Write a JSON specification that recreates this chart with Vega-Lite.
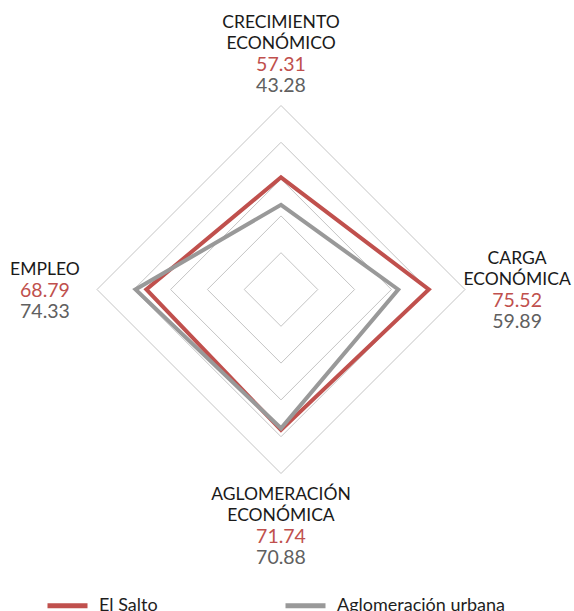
{
  "$schema": "https://vega.github.io/schema/vega-lite/v6.json",
  "width": 368,
  "height": 368,
  "autosize": "none",
  "padding": {"left": 97, "top": 105.5, "right": 109, "bottom": 137.5},
  "background": "white",
  "config": {"view": {"stroke": null}, "font": "Lato"},
  "datasets": {
    "ejes": [
      {"orden": 0, "nombre": ["CRECIMIENTO", "ECONÓMICO"]},
      {"orden": 1, "nombre": ["CARGA", "ECONÓMICA"]},
      {"orden": 2, "nombre": ["AGLOMERACIÓN", "ECONÓMICA"]},
      {"orden": 3, "nombre": ["EMPLEO"]}
    ],
    "series": [
      {"serie": "El Salto", "orden": 0, "valor": 57.31},
      {"serie": "El Salto", "orden": 1, "valor": 75.52},
      {"serie": "El Salto", "orden": 2, "valor": 71.74},
      {"serie": "El Salto", "orden": 3, "valor": 68.79},
      {"serie": "Aglomeración urbana", "orden": 0, "valor": 43.28},
      {"serie": "Aglomeración urbana", "orden": 1, "valor": 59.89},
      {"serie": "Aglomeración urbana", "orden": 2, "valor": 70.88},
      {"serie": "Aglomeración urbana", "orden": 3, "valor": 74.33}
    ],
    "rejilla": [
      {"nivel": 18.8, "orden": 0}, {"nivel": 18.8, "orden": 1}, {"nivel": 18.8, "orden": 2}, {"nivel": 18.8, "orden": 3},
      {"nivel": 37.6, "orden": 0}, {"nivel": 37.6, "orden": 1}, {"nivel": 37.6, "orden": 2}, {"nivel": 37.6, "orden": 3},
      {"nivel": 56.4, "orden": 0}, {"nivel": 56.4, "orden": 1}, {"nivel": 56.4, "orden": 2}, {"nivel": 56.4, "orden": 3},
      {"nivel": 75.2, "orden": 0}, {"nivel": 75.2, "orden": 1}, {"nivel": 75.2, "orden": 2}, {"nivel": 75.2, "orden": 3},
      {"nivel": 94, "orden": 0}, {"nivel": 94, "orden": 1}, {"nivel": 94, "orden": 2}, {"nivel": 94, "orden": 3}
    ]
  },
  "layer": [
    {
      "data": {"name": "rejilla"},
      "transform": [
        {"calculate": "datum.nivel * [0, 1, 0, -1][datum.orden]", "as": "px"},
        {"calculate": "datum.nivel * [1, 0, -1, 0][datum.orden]", "as": "py"}
      ],
      "mark": {"type": "line", "interpolate": "linear-closed", "color": "#c4c4c4", "strokeWidth": 1},
      "encoding": {
        "x": {"field": "px", "type": "quantitative", "scale": {"domain": [-94, 94]}, "axis": null},
        "y": {"field": "py", "type": "quantitative", "scale": {"domain": [-94, 94]}, "axis": null},
        "detail": {"field": "nivel", "type": "nominal"},
        "order": {"field": "orden", "type": "quantitative"}
      }
    },
    {
      "data": {"name": "series"},
      "transform": [
        {"calculate": "datum.valor * [0, 1, 0, -1][datum.orden]", "as": "px"},
        {"calculate": "datum.valor * [1, 0, -1, 0][datum.orden]", "as": "py"}
      ],
      "mark": {"type": "line", "interpolate": "linear-closed", "strokeWidth": 4, "strokeJoin": "miter"},
      "encoding": {
        "x": {"field": "px", "type": "quantitative", "scale": {"domain": [-94, 94]}, "axis": null},
        "y": {"field": "py", "type": "quantitative", "scale": {"domain": [-94, 94]}, "axis": null},
        "color": {
          "field": "serie",
          "type": "nominal",
          "sort": ["El Salto", "Aglomeración urbana"],
          "scale": {"domain": ["El Salto", "Aglomeración urbana"], "range": ["#c0504d", "#999999"]},
          "legend": {
            "title": null,
            "orient": "none",
            "legendX": -52,
            "legendY": 477.5,
            "direction": "horizontal",
            "symbolType": "stroke",
            "symbolSize": 1600,
            "symbolStrokeWidth": 5,
            "labelFont": "Lato",
            "labelFontSize": 18,
            "labelColor": "#1e1e1e",
            "labelOffset": 9,
            "labelLimit": 0,
            "columnPadding": 117,
            "padding": 0
          }
        },
        "order": {"field": "orden", "type": "quantitative"}
      }
    },
    {
      "data": {"name": "ejes"},
      "transform": [
        {"calculate": "length(datum.nombre)", "as": "m"},
        {"calculate": "120.6 * [0, 1, 0, -1][datum.orden]", "as": "px"},
        {"calculate": "120.6 * [1, 0, -1, 0][datum.orden] + (datum.m + 1) / 2 * 10.728 - 0.6", "as": "py"}
      ],
      "mark": {"type": "text", "baseline": "middle", "align": "center", "fontSize": 17.5, "lineHeight": 21, "color": "#1a1a1a", "font": "Lato"},
      "encoding": {
        "x": {"field": "px", "type": "quantitative", "scale": {"domain": [-94, 94]}, "axis": null},
        "y": {"field": "py", "type": "quantitative", "scale": {"domain": [-94, 94]}, "axis": null},
        "text": {"field": "nombre", "type": "nominal"}
      }
    },
    {
      "data": {"name": "series"},
      "transform": [
        {"filter": "datum.serie === 'El Salto'"},
        {"lookup": "orden", "from": {"data": {"name": "ejes"}, "key": "orden", "fields": ["nombre"]}},
        {"calculate": "length(datum.nombre)", "as": "m"},
        {"calculate": "120.6 * [0, 1, 0, -1][datum.orden]", "as": "px"},
        {"calculate": "120.6 * [1, 0, -1, 0][datum.orden] + (1 - datum.m) / 2 * 10.728 - 0.6", "as": "py"},
        {"calculate": "format(datum.valor, '.2f')", "as": "t"}
      ],
      "mark": {"type": "text", "baseline": "middle", "align": "center", "fontSize": 19.5, "color": "#c0504d", "font": "Lato"},
      "encoding": {
        "x": {"field": "px", "type": "quantitative", "scale": {"domain": [-94, 94]}, "axis": null},
        "y": {"field": "py", "type": "quantitative", "scale": {"domain": [-94, 94]}, "axis": null},
        "text": {"field": "t", "type": "nominal"}
      }
    },
    {
      "data": {"name": "series"},
      "transform": [
        {"filter": "datum.serie === 'Aglomeración urbana'"},
        {"lookup": "orden", "from": {"data": {"name": "ejes"}, "key": "orden", "fields": ["nombre"]}},
        {"calculate": "length(datum.nombre)", "as": "m"},
        {"calculate": "120.6 * [0, 1, 0, -1][datum.orden]", "as": "px"},
        {"calculate": "120.6 * [1, 0, -1, 0][datum.orden] - (1 + datum.m) / 2 * 10.728 - 0.6", "as": "py"},
        {"calculate": "format(datum.valor, '.2f')", "as": "t"}
      ],
      "mark": {"type": "text", "baseline": "middle", "align": "center", "fontSize": 19.5, "color": "#606060", "font": "Lato"},
      "encoding": {
        "x": {"field": "px", "type": "quantitative", "scale": {"domain": [-94, 94]}, "axis": null},
        "y": {"field": "py", "type": "quantitative", "scale": {"domain": [-94, 94]}, "axis": null},
        "text": {"field": "t", "type": "nominal"}
      }
    }
  ]
}
